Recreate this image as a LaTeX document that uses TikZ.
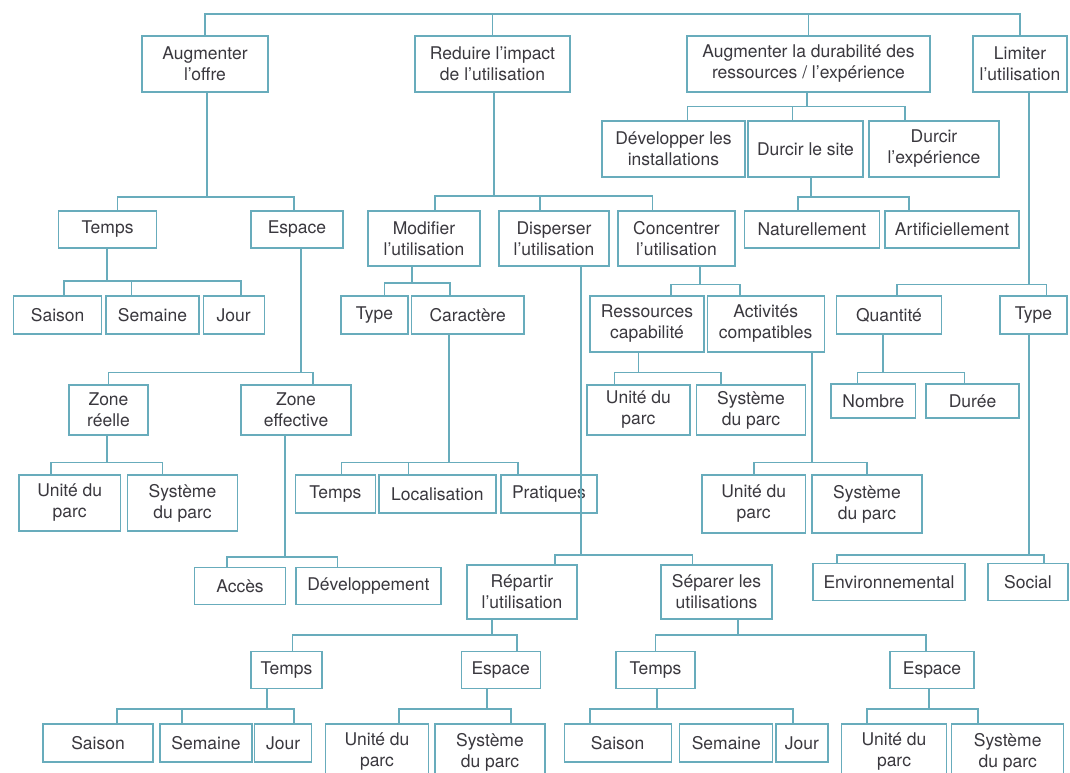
\documentclass[tikz,border=0pt]{standalone}
\usepackage{fontspec}
\setmainfont{TeX Gyre Heros}
\definecolor{linkblue}{RGB}{104,172,188}
\definecolor{labelgrey}{RGB}{58,56,62}
\tikzset{
  box/.style={draw=linkblue, line width=1.2pt, fill=white, inner sep=0pt, align=center,
    text=labelgrey, font=\fontsize{17.5}{21}\selectfont},
  w/.style={minimum width=#1pt},
  h/.style={minimum height=#1pt},
  conn/.style={draw=linkblue, line width=1.6pt}
}
\begin{document}
\begin{tikzpicture}[x=1pt,y=1pt,yscale=-1,xscale=1]
\useasboundingbox (0,0) rectangle (1070,773);

% Text Node : first level
\node[box, w=126, h=56] (aug) at (205,64) {Augmenter\\l'offre};
\node[box, w=155, h=56] (red) at (492.5,64) {Reduire l'impact\\de l'utilisation};
\node[box, w=243, h=56] (dur) at (808.5,64) {Augmenter la durabilité des\\ressources / l'expérience};
\node[box, w=94, h=56] (lim) at (1020,64) {Limiter\\l'utilisation};

% Text Node : under Augmenter la durabilite
\node[box, w=143, h=56] (dev) at (673.5,149) {Développer les\\installations};
\node[box, w=115, h=56] (dsite) at (805.5,149) {Durcir le site};
\node[box, w=130, h=56] (dexp) at (934,149) {Durcir\\l'expérience};
\node[box, w=134.5, h=37] (nat) at (812,229.5) {Naturellement};
\node[box, w=134, h=37] (art) at (952,229.5) {Artificiellement};

% Text Node : under Augmenter l'offre
\node[box, w=98, h=37] (tps1) at (107.6,229.5) {Temps};
\node[box, w=92, h=37] (esp1) at (297,229.5) {Espace};
\node[box, w=88, h=38] (sai1) at (57.7,315) {Saison};
\node[box, w=93, h=38] (sem1) at (152.5,315) {Semaine};
\node[box, w=61, h=38] (jou1) at (233.7,315) {Jour};
\node[box, w=79, h=50] (zr) at (108.5,410) {Zone\\réelle};
\node[box, w=110, h=50] (ze) at (296,410) {Zone\\effective};
\node[box, w=101.5, h=56] (uni1) at (69.7,503) {Unité du\\parc};
\node[box, w=110, h=56] (sys1) at (182.5,503) {Système\\du parc};
\node[box, w=91, h=37] (acc) at (240,586) {Accès};
\node[box, w=145, h=37] (devp) at (368.4,586) {Développement};

% Text Node : under Reduire l'impact
\node[box, w=112, h=55] (mod) at (424,238.5) {Modifier\\l'utilisation};
\node[box, w=110, h=55] (disp) at (554,238.5) {Disperser\\l'utilisation};
\node[box, w=117, h=55] (conc) at (676.4,238.5) {Concentrer\\l'utilisation};
\node[box, w=67, h=38] (typ1) at (374.5,315) {Type};
\node[box, w=112.5, h=38] (car) at (467.7,315) {Caractère};
\node[box, w=80, h=38] (tps2) at (335.4,494) {Temps};
\node[box, w=117, h=38] (loc) at (437.4,494) {Localisation};
\node[box, w=96, h=38] (pra) at (549,494) {Pratiques};
\node[box, w=110, h=54] (rep) at (522,592) {Répartir\\l'utilisation};
\node[box, w=111, h=54] (sep) at (716.5,592) {Séparer les\\utilisations};
\node[box, w=71, h=37] (tps3) at (286.5,670) {Temps};
\node[box, w=79, h=37] (esp3) at (500.7,670) {Espace};
\node[box, w=110, h=38] (sai3) at (98,743) {Saison};
\node[box, w=92, h=38] (sem3) at (206,743) {Semaine};
\node[box, w=57, h=38] (jou3) at (283.2,743) {Jour};
\node[box, w=103, h=56] (uni3) at (377,752) {Unité du\\parc};
\node[box, w=110, h=56] (sys3) at (490,752) {Système\\du parc};
\node[box, w=79, h=37] (tps4) at (655.5,670) {Temps};
\node[box, w=84, h=37] (esp4) at (932,670) {Espace};
\node[box, w=107, h=38] (sai4) at (617.7,743) {Saison};
\node[box, w=93, h=38] (sem4) at (726.3,743) {Semaine};
\node[box, w=52, h=38] (jou4) at (802,743) {Jour};
\node[box, w=105, h=56] (uni4) at (894,752) {Unité du\\parc};
\node[box, w=112, h=56] (sys4) at (1007.7,752) {Système\\du parc};
\node[box, w=114, h=56] (res) at (647,324) {Ressources\\capabilité};
\node[box, w=117, h=56] (act) at (765.7,324) {Activités\\compatibles};
\node[box, w=103, h=50] (uni2) at (638.4,410) {Unité du\\parc};
\node[box, w=108.5, h=50] (sys2) at (751,410) {Système\\du parc};
\node[box, w=103.5, h=58] (uni5) at (753.7,504) {Unité du\\parc};
\node[box, w=110, h=58] (sys5) at (867,504) {Système\\du parc};

% Text Node : under Limiter l'utilisation
\node[box, w=105, h=38] (qua) at (889,315) {Quantité};
\node[box, w=67, h=38] (typ2) at (1033.5,315) {Type};
\node[box, w=84.7, h=34] (nom) at (873.4,401) {Nombre};
\node[box, w=93, h=34] (dure) at (972.5,401) {Durée};
\node[box, w=152, h=37] (env) at (889,582) {Environnemental};
\node[box, w=80, h=37] (soc) at (1028,582) {Social};

% Junctions of the brackets
\coordinate (jtop) at (500,14);
\coordinate (jdur) at (807,106.5);
\coordinate (jaug) at (207,197);
\coordinate (jt1) at (107,281);
\coordinate (je1) at (301,372.5);
\coordinate (jzr) at (107,462.5);
\coordinate (jze) at (285,557);
\coordinate (jred) at (494,196);
\coordinate (jmod) at (412,283);
\coordinate (jcar) at (449,462.5);
\coordinate (jdis) at (581,555);
\coordinate (jrep) at (492,635);
\coordinate (jt3) at (267,709);
\coordinate (je3) at (487,709);
\coordinate (jsep) at (738,635);
\coordinate (jt4) at (657,709);
\coordinate (je4) at (929,709);
\coordinate (jcon) at (700,284.5);
\coordinate (jres) at (638.5,372.5);
\coordinate (jact) at (812,462.5);
\coordinate (jds) at (811,197);
\coordinate (jlim) at (1029,284.5);
\coordinate (jqua) at (883,372.5);
\coordinate (jty) at (1029,555);

%Straight Lines : top bar
\draw[conn] (aug.north) |- (jtop) -| (lim.north);
\draw[conn] (red.north) -- (red.north |- jtop);
\draw[conn] (dur.north) -- (dur.north |- jtop);

%Straight Lines : Augmenter la durabilite
\draw[conn] (dur.south -| jdur) -- (jdur);
\draw[conn] ([xshift=14pt]dev.north) |- (jdur) -| ([xshift=-29pt]dexp.north);
\draw[conn] ([xshift=-13pt]dsite.north) -- ++(0,-14.5);
\draw[conn] (dsite.south -| jds) -- (jds);
\draw[conn] ([xshift=-14pt]nat.north) |- (jds) -| ([xshift=-43pt]art.north);

%Straight Lines : Augmenter l'offre
\draw[conn] (aug.south -| jaug) -- (jaug);
\draw[conn] ([xshift=10pt]tps1.north) |- (jaug) -| ([xshift=-3pt]esp1.north);
\draw[conn] (tps1.south -| jt1) -- (jt1);
\draw[conn] ([xshift=6pt]sai1.north) |- (jt1) -| ([xshift=7pt]jou1.north);
\draw[conn] ([xshift=-21pt]sem1.north) -- ++(0,-15);
\draw[conn] (esp1.south -| je1) -- (je1);
\draw[conn] (zr.north) |- (je1) -| ([xshift=17pt]ze.north);
\draw[conn] (zr.south -| jzr) -- (jzr);
\draw[conn] ([xshift=-19pt]uni1.north) |- (jzr) -| ([xshift=-20pt]sys1.north);
\draw[conn] (ze.south -| jze) -- (jze);
\draw[conn] ([xshift=-13pt]acc.north) |- (jze) -| ([xshift=-31pt]devp.north);

%Straight Lines : Reduire l'impact
\draw[conn] (red.south -| jred) -- (jred);
\draw[conn] ([xshift=11pt]mod.north) |- (jred) -| ([xshift=-24pt]conc.north);
\draw[conn] ([xshift=-14pt]disp.north) -- ++(0,-15);
\draw[conn] (mod.south -| jmod) -- (jmod);
\draw[conn] ([xshift=10pt]typ1.north) |- (jmod) -| ([xshift=-18pt]car.north);
\draw[conn] (car.south -| jcar) -- (jcar);
\draw[conn] ([xshift=6pt]tps2.north) |- (jcar) -| ([xshift=-31pt]pra.north);
\draw[conn] ([xshift=-29pt]loc.north) -- ++(0,-12.5);
\draw[conn] (disp.south -| jdis) -- (jdis);
\draw[conn] ([xshift=33pt]rep.north) |- (jdis) -| ([xshift=-24pt]sep.north);
\draw[conn] (rep.south -| jrep) -- (jrep);
\draw[conn] ([xshift=6pt]tps3.north) |- (jrep) -| ([xshift=16pt]esp3.north);
\draw[conn] (tps3.south -| jt3) -- (jt3);
\draw[conn] ([xshift=19pt]sai3.north) |- (jt3) -| ([xshift=11pt]jou3.north);
\draw[conn] ([xshift=-24pt]sem3.north) -- ++(0,-15);
\draw[conn] (esp3.south -| je3) -- (je3);
\draw[conn] ([xshift=22pt]uni3.north) |- (je3) -| ([xshift=21pt]sys3.north);
\draw[conn] (sep.south -| jsep) -- (jsep);
\draw[conn] (tps4.north) |- (jsep) -| ([xshift=-6pt]esp4.north);
\draw[conn] (tps4.south -| jt4) -- (jt4);
\draw[conn] ([xshift=-28pt]sai4.north) |- (jt4) -| ([xshift=-9pt]jou4.north);
\draw[conn] (esp4.south -| je4) -- (je4);
\draw[conn] ([xshift=-27pt]uni4.north) |- (je4) -| ([xshift=-30pt]sys4.north);
\draw[conn] (conc.south -| jcon) -- (jcon);
\draw[conn] ([xshift=24pt]res.north) |- (jcon) -| ([xshift=-26pt]act.north);
\draw[conn] (res.south -| jres) -- (jres);
\draw[conn] ([xshift=-24pt]uni2.north) |- (jres) -| ([xshift=-30pt]sys2.north);
\draw[conn] (act.south -| jact) -- (jact);
\draw[conn] (uni5.north) |- (jact) -| (sys5.north);

%Straight Lines : Limiter l'utilisation
\draw[conn] (lim.south -| jlim) -- (jlim);
\draw[conn] ([xshift=8pt]qua.north) |- (jlim) -| ([xshift=13pt]typ2.north);
\draw[conn] (qua.south -| jqua) -- (jqua);
\draw[conn] ([xshift=-16pt]nom.north) |- (jqua) -| ([xshift=-8pt]dure.north);
\draw[conn] (typ2.south -| jty) -- (jty);
\draw[conn] ([xshift=-52pt]env.north) |- (jty) -| ([xshift=16pt]soc.north);

\end{tikzpicture}
\end{document}
